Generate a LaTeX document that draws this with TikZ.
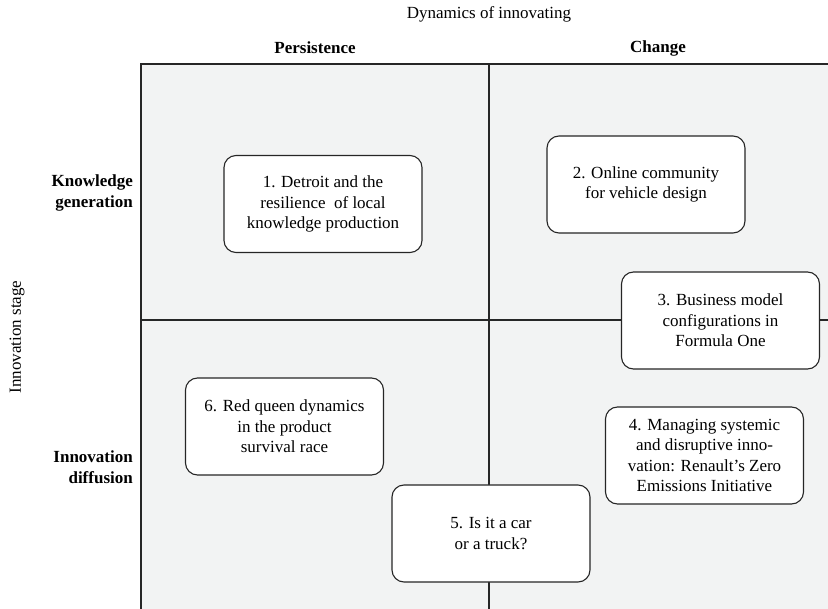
\documentclass[tikz,border=0pt]{standalone}
\usepackage{fontspec}
\setmainfont{Liberation Serif}
\usetikzlibrary{positioning}
\definecolor{quadfill}{RGB}{242,243,243}
\definecolor{quadline}{RGB}{38,38,38}
\newcommand{\casefont}{\fontsize{17}{20.5}\selectfont}
\tikzset{
  casebox/.style={draw=quadline, line width=1.1pt, rounded corners=12pt, fill=white,
    minimum width=198pt, minimum height=97pt, align=center, inner sep=4pt, font=\casefont},
  axislabel/.style={font=\casefont, inner sep=0pt},
  collabel/.style={font=\casefont\bfseries, inner sep=0pt},
  rowlabel/.style={font=\casefont\bfseries, align=right, anchor=east, inner sep=0pt},
  divider/.style={draw=quadline, line width=1.5pt}
}

\begin{document}
\begin{tikzpicture}[x=1pt, y=-1pt]
      \useasboundingbox (0,0) rectangle (828,609);
      % quadrants
      \fill[quadfill] (141,64) rectangle (828,609);
      \draw[divider] (828,64) -- (141,64) -- (141,609);
      \draw[divider] (489,64) -- (489,609);
      \draw[divider] (141,320) -- (828,320);
      % axes
      \node[axislabel] (dyn) at (489,14) {Dynamics of innovating};
      \node[collabel] (persist) at (315,48) {Persistence};
      \node[collabel] (change) at (658,48) {Change};
      \node[axislabel, rotate=90] (stage) at (17,337) {Innovation stage};
      \node[rowlabel] (gen) at (133,193) {Knowledge\\generation};
      \node[rowlabel] (diff) at (133,467) {Innovation\\diffusion};
      % cases
      \node[casebox] (detroit) at (323,204) {1. Detroit and the\\resilience\ \ of local\\knowledge production};
      \node[casebox] (online) at (646,184.5) {2. Online community\\for vehicle design};
      \node[casebox] (formula) at (720.5,320.5) {3. Business model\\configurations in\\Formula One};
      \node[casebox] (renault) at (704.5,455.5) {4. Managing systemic\\and disruptive inno-\\vation: Renault's Zero\\Emissions Initiative};
      \node[casebox] (truck) at (491,533.5) {5. Is it a car\\or a truck?};
      \node[casebox] (redqueen) at (284.5,426.5) {6. Red queen dynamics\\in the product\\survival race};
    \end{tikzpicture}
\end{document}
